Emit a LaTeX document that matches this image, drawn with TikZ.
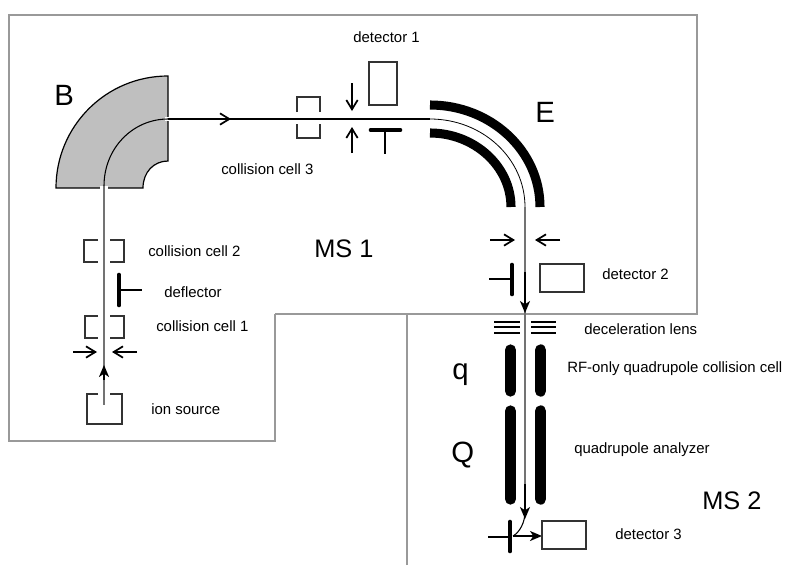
\documentclass[tikz,border=0pt]{standalone}
\usepackage{fontspec}
\setmainfont{Liberation Sans}
\usetikzlibrary{arrows.meta}
\tikzset{
 frame/.style={draw=black!40,line width=2.2pt},
 thin box/.style={draw=black!80,line width=0.9pt},
 beam/.style={draw=black!55,line width=1.1pt},
 fine/.style={draw=black,line width=0.8pt},
 arr/.style={draw=black,line width=1.4pt,-{Straight Barb[length=7pt,width=8.5pt,line width=1.3pt]}},
 beamarr/.style={draw=black,line width=1.4pt,-{Stealth[length=9pt,width=7.5pt,inset=2.5pt]}},
 heavy/.style={draw=black,line width=3.5pt,line cap=round},
 stem/.style={draw=black,line width=2pt},
 rod/.style={draw=black,line width=8.5pt,line cap=round},
 plate/.style={draw=black,line width=6.8pt},
 lbl/.style={inner sep=0pt,anchor=west,font=\fontsize{11.2pt}{13pt}\selectfont},
 big/.style={inner sep=0pt,anchor=west,font=\fontsize{22pt}{26pt}\selectfont},
 ms/.style={inner sep=0pt,anchor=west,font=\fontsize{19pt}{22pt}\selectfont},
}
\begin{document}
\begin{tikzpicture}[x=0.75pt,y=-0.75pt]
\useasboundingbox (0,0) rectangle (790,565);
\draw[frame] (407,565) -- (407,314) (275,314) -- (697,314) -- (697,15) -- (9,15) -- (9,441) -- (275,441) -- (275,314);
% magnet
\draw[fill=black!25,line width=0.9pt] (56,188) .. controls (56,126.1) and (106,76) .. (168,76) -- (168,161) .. controls (154,161) and (143,172) .. (143,188) -- cycle;
\draw[white,line width=3pt] (165,119) -- (171,119) (100,188) -- (108,188);
\draw[fine] (168,119) .. controls (133,119) and (104,148) .. (104,186);
\draw[beam] (104,186) -- (104,405);
\draw[fine] (168,119) -- (430,119);
\draw[arr] (186,119) -- (231,119);
% E
\draw[plate] (430,105) .. controls (490.8,105) and (540,150.7) .. (540,207);
\draw[plate] (430,133) .. controls (474.2,133) and (511,166.1) .. (511,207);
\draw[fine,line width=0.6pt] (430,119) .. controls (482.5,119) and (525,158.4) .. (525,207);
\draw[beam] (525,207) -- (525,484);
% cell 3
\draw[thin box] (297,112) -- (297,97) -- (320,97) -- (320,112) (297,124) -- (297,138) -- (320,138) -- (320,124);
\draw[arr] (352,83) -- (352,111);
\draw[arr] (352,153) -- (352,127);
\draw[thin box] (369,62) rectangle (397,105);
\draw[heavy] (371,130) -- (400,130);
\draw[stem] (385,130) -- (385,154);
% detector 2 region
\draw[arr] (490,240) -- (515,240);
\draw[arr] (560,240) -- (535,240);
\draw[heavy] (512,265) -- (512,294);
\draw[stem] (489,279) -- (512,279);
\draw[thin box] (540,264) rectangle (584,292);
\draw[beamarr] (525,272) -- (525,313);
% deceleration lens
\foreach \y in {322,327,333} {\draw[fine] (494,\y) -- (520,\y) (531,\y) -- (556,\y);}
% rods
\draw[rod] (510.5,350) -- (510.5,391);
\draw[rod] (540.5,350) -- (540.5,391);
\draw[rod] (510.5,411) -- (510.5,499);
\draw[rod] (540.5,411) -- (540.5,499);
% detector 3
\draw[beamarr] (525,484) -- (525,519);
\draw[fine] (525,512) .. controls (525,522) and (520,532) .. (513,536);
\draw[heavy] (510,522) -- (510,551);
\draw[stem] (488,537) -- (510,537);
\draw[beamarr] (513,536) -- (542,536);
\draw[thin box] (542,521) rectangle (586,549);
% cells 1,2, deflector, source
\draw[thin box] (98,240) -- (84,240) -- (84,262) -- (98,262) (110,240) -- (124,240) -- (124,262) -- (110,262);
\draw[heavy] (119,275) -- (119,305);
\draw[stem] (119,290) -- (142,290);
\draw[thin box] (98,316) -- (85,316) -- (85,338) -- (98,338) (110,316) -- (124,316) -- (124,338) -- (110,338);
\draw[arr] (73,352) -- (97,352);
\draw[arr] (137,352) -- (112,352);
\draw[beamarr] (104,380) -- (104,365);
\draw[thin box] (98,394) -- (87,394) -- (87,424) -- (122,424) -- (122,394) -- (110,394);
% labels
\node[big] (lB) at (54,95) {B};
\node[big] (lE) at (535,112) {E};
\node[ms] (lMS1) at (314,249) {MS 1};
\node[big] (lq) at (452,375) {q};
\node[big] (lQ) at (451,455) {Q};
\node[ms] (lMS2) at (702,501) {MS 2};
\node[lbl] (t1) at (353,37) {detector 1};
\node[lbl] (t2) at (221,169) {collision cell 3};
\node[lbl] (t3) at (148,251) {collision cell 2};
\node[lbl] (t4) at (164,292) {deflector};
\node[lbl] (t5) at (156,326) {collision cell 1};
\node[lbl] (t6) at (151,409) {ion source};
\node[lbl] (t7) at (602,274) {detector 2};
\node[lbl] (t8) at (584,329) {deceleration lens};
\node[lbl] (t9) at (567,369) {RF-only quadrupole collision cell};
\node[lbl] (t10) at (574,450) {quadrupole analyzer};
\node[lbl] (t11) at (615,534) {detector 3};
\end{tikzpicture}
\end{document}
